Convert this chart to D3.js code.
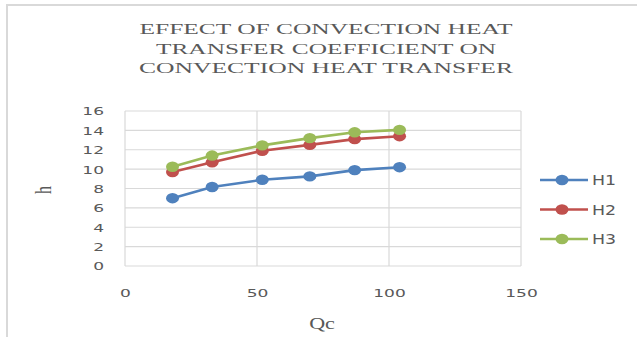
<!DOCTYPE html>
<html>
<head>
<meta charset="utf-8">
<script src="https://cdn.jsdelivr.net/npm/d3@7"></script>
<style>
	body { margin: 0; background: #fff; }
	svg text { fill: #595959; }
</style>
</head>
<body>
<svg id="chart" width="637" height="337"></svg>
<script>
var qc = [18, 33, 52, 70, 87, 104];
var h1 = [7.0, 8.15, 8.9, 9.25, 9.9, 10.2];
var h2 = [9.7, 10.7, 11.9, 12.5, 13.1, 13.4];
var h3 = [10.25, 11.4, 12.45, 13.2, 13.8, 14.05];
var seriesNames = ["H1", "H2", "H3"];
var seriesColors = ["#4f81bd", "#c0504d", "#9bbb59"];
var xTicks = [0, 50, 100, 150];
var yTicks = [0, 2, 4, 6, 8, 10, 12, 14, 16];
var titleLines = ["EFFECT OF CONVECTION HEAT", "TRANSFER COEFFICIENT ON", "CONVECTION HEAT TRANSFER"];
var titleWidths = [373, 340, 374];

var svg = d3.select("#chart");
var SANS = "'DejaVu Sans', sans-serif";
var SERIF = "'Liberation Serif', serif";

// the original picture is stretched sideways, so text gets a horizontal scale
function wideText(parent, tx, ty, sx, rot) {
	return parent.append("text")
		.attr("transform", "translate(" + tx + "," + ty + ")" + (rot ? " rotate(" + rot + ")" : "") +
			(rot ? " scale(1," + sx + ")" : " scale(" + sx + ",1)"));
}

// chart frame
svg.append("rect")
	.attr("x", 7).attr("y", 5)
	.attr("width", 640).attr("height", 340)
	.attr("fill", "none")
	.attr("stroke", "#d9d9d9")
	.attr("stroke-width", 2);

var x = d3.scaleLinear().domain([0, 150]).range([125, 521]);
var y = d3.scaleLinear().domain([0, 16]).range([266, 111]);

// gridlines
svg.append("g")
	.selectAll("line")
	.data(yTicks)
	.enter()
	.append("line")
	.attr("x1", x(0)).attr("x2", x(150))
	.attr("y1", function(d) { return y(d) })
	.attr("y2", function(d) { return y(d) })
	.attr("stroke", "#d9d9d9")
	.attr("stroke-width", 1.2);

svg.append("g")
	.selectAll("line")
	.data(xTicks)
	.enter()
	.append("line")
	.attr("y1", y(0)).attr("y2", y(16))
	.attr("x1", function(d) { return x(d) })
	.attr("x2", function(d) { return x(d) })
	.attr("stroke", "#d9d9d9")
	.attr("stroke-width", 1.2);

// tick labels
var yAxis = svg.append("g")
	.attr("transform", "translate(104,0)")
	.call(d3.axisLeft(y).tickValues(yTicks).tickSize(0).tickPadding(0));
var xAxis = svg.append("g")
	.attr("transform", "translate(0,293)")
	.call(d3.axisBottom(x).tickValues(xTicks).tickSize(0).tickPadding(0));
[yAxis, xAxis].forEach(function(a) {
	a.select(".domain").remove();
	a.selectAll("text")
		.style("font-family", SANS)
		.style("font-size", "11px")
		.attr("fill", "#595959");
});
yAxis.selectAll(".tick text").attr("dy", "0.36em")
	.attr("transform", "scale(1.55,1)");
xAxis.selectAll(".tick text").attr("dy", "0.36em").attr("y", 0)
	.attr("transform", "scale(1.55,1)");

// title
titleLines.forEach(function(t, i) {
	svg.append("text")
		.attr("x", 326 - titleWidths[i] / 2)
		.attr("y", 34 + i * 19.5)
		.attr("textLength", titleWidths[i])
		.attr("lengthAdjust", "spacingAndGlyphs")
		.style("font-family", SERIF)
		.style("font-size", "15.5px")
		.text(t);
});

// axis titles
wideText(svg, 322, 329, 1.38)
	.attr("text-anchor", "middle")
	.style("font-family", SERIF)
	.style("font-size", "16px")
	.text("Qc");

wideText(svg, 51, 190, 1.45, -90)
	.attr("text-anchor", "middle")
	.style("font-family", SERIF)
	.style("font-size", "16px")
	.text("h");

// series
var series = [h1, h2, h3].map(function(vals, i) {
	return {
		name: seriesNames[i],
		color: seriesColors[i],
		points: vals.map(function(v, j) { return { x: qc[j], y: v } })
	}
});

var line = d3.line()
	.x(function(d) { return x(d.x) })
	.y(function(d) { return y(d.y) });

var groups = svg.selectAll("g.series")
	.data(series)
	.enter()
	.append("g")
	.attr("class", "series");

groups.append("path")
	.attr("d", function(d) { return line(d.points) })
	.attr("fill", "none")
	.attr("stroke", function(d) { return d.color })
	.attr("stroke-width", 2.6);

groups.selectAll("ellipse")
	.data(function(d) { return d.points.map(function(p) { return { p: p, c: d.color } }) })
	.enter()
	.append("ellipse")
	.attr("cx", function(d) { return x(d.p.x) })
	.attr("cy", function(d) { return y(d.p.y) })
	.attr("rx", 6.5)
	.attr("ry", 5.2)
	.attr("fill", function(d) { return d.c });

// legend
var legend = svg.selectAll("g.legend")
	.data(series)
	.enter()
	.append("g")
	.attr("class", "legend")
	.attr("transform", function(d, i) { return "translate(540," + (180 + i * 29.5) + ")" });

legend.append("line")
	.attr("x1", 0).attr("x2", 48)
	.attr("stroke", function(d) { return d.color })
	.attr("stroke-width", 2.6);
legend.append("ellipse")
	.attr("cx", 22).attr("rx", 6.5).attr("ry", 5.2)
	.attr("fill", function(d) { return d.color });
legend.append("text")
	.attr("transform", "translate(52,0) scale(1.2,1)")
	.attr("dy", "0.36em")
	.style("font-family", SANS)
	.style("font-size", "14.5px")
	.text(function(d) { return d.name });
</script>
</body>
</html>
